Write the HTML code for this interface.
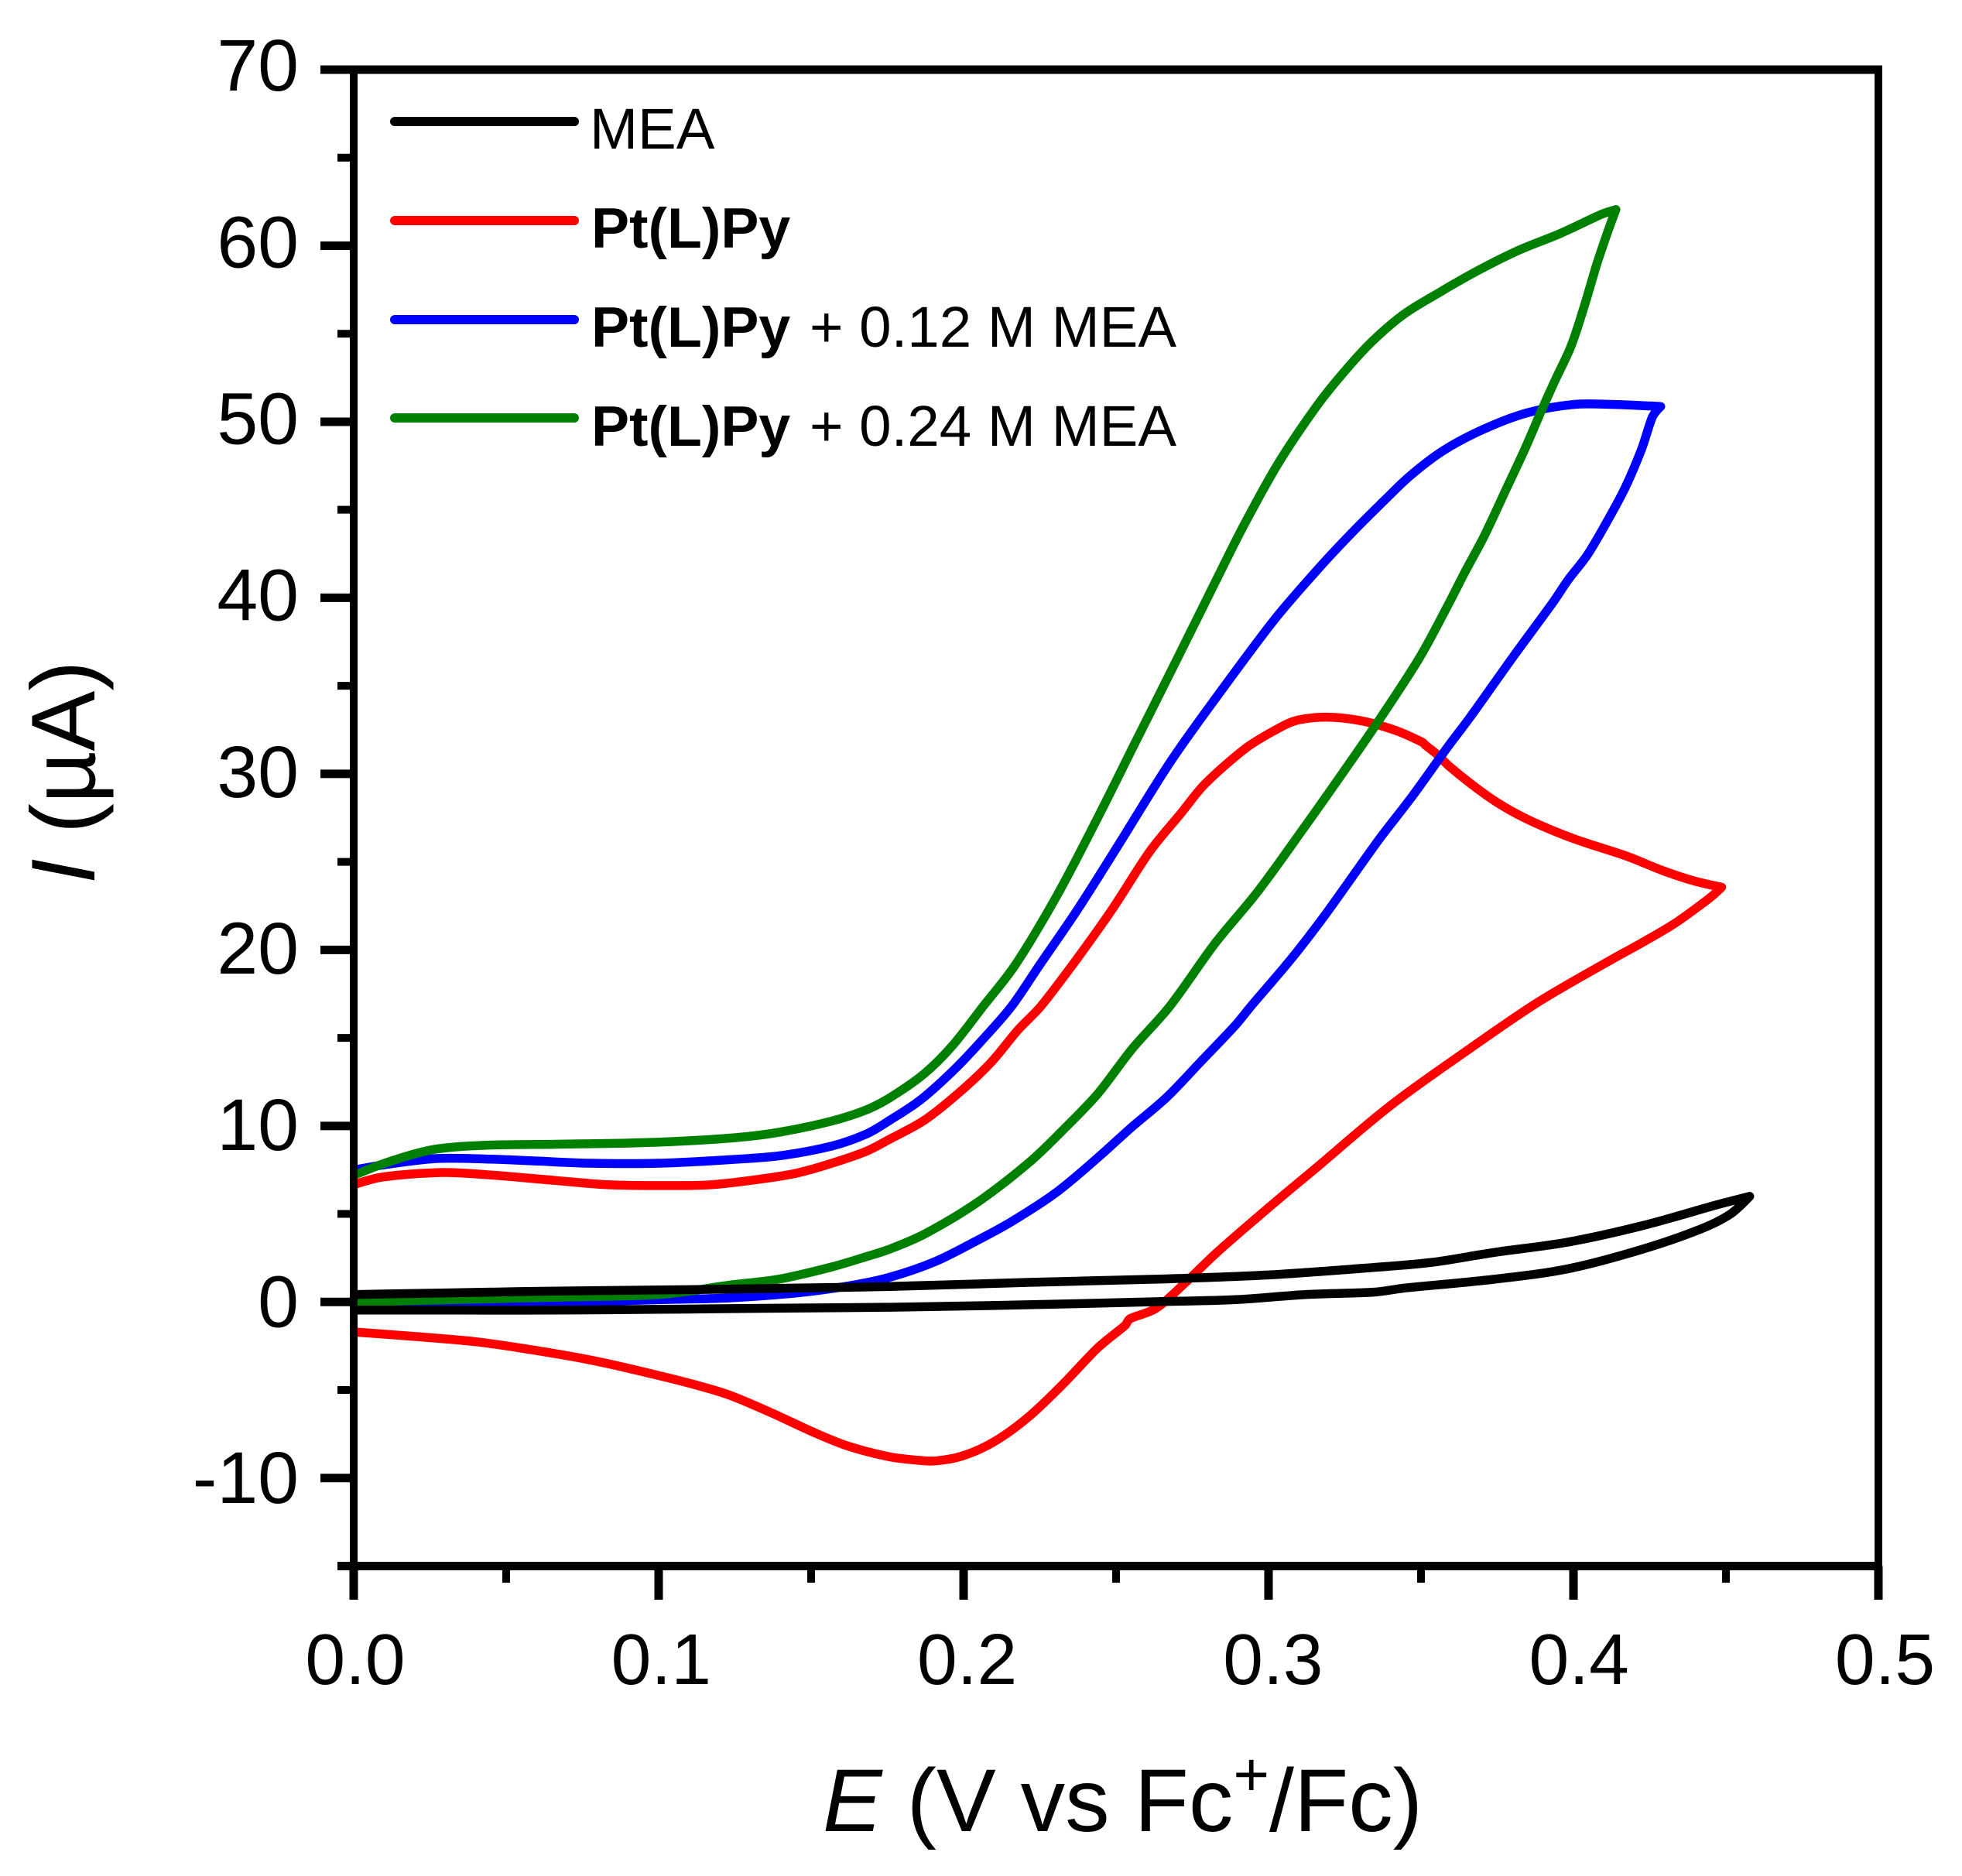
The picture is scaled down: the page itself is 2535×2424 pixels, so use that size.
<!DOCTYPE html>
<html lang="en">
<head>
<meta charset="utf-8">
<title>Cyclic voltammograms of MEA and Pt(L)Py</title>
<style>
html,body{margin:0;padding:0;background:#fff;}
svg{display:block;}
text{font-family:"Liberation Sans",Arial,sans-serif;fill:#000;}
</style>
</head>
<body>
<svg id="chart" xmlns="http://www.w3.org/2000/svg" width="2535" height="2424" viewBox="0 0 2535 2424">
  <rect x="0" y="0" width="2535" height="2424" fill="#fff"/>
  <g id="curves"></g>
  <g id="axes"></g>
  <g>
    <line x1="510" y1="157" x2="742" y2="157" stroke="#000" stroke-width="12" stroke-linecap="round"/>
    <text x="762" y="192" font-size="74.5">MEA</text>
    <line x1="510" y1="285" x2="742" y2="285" stroke="#f00" stroke-width="12" stroke-linecap="round"/>
    <text x="764" y="320" font-size="73.5" font-weight="bold">Pt(L)Py</text>
    <line x1="510" y1="413" x2="742" y2="413" stroke="#00f" stroke-width="12" stroke-linecap="round"/>
    <text x="764" y="448" font-size="74.5"><tspan font-weight="bold" font-size="73.5">Pt(L)Py</tspan><tspan dx="4"> + 0.12 M MEA</tspan></text>
    <line x1="510" y1="540" x2="742" y2="540" stroke="#008000" stroke-width="12" stroke-linecap="round"/>
    <text x="764" y="576" font-size="74.5"><tspan font-weight="bold" font-size="73.5">Pt(L)Py</tspan><tspan dx="4"> + 0.24 M MEA</tspan></text>
  </g>
  <text x="1063" y="2366" font-size="115"><tspan font-style="italic">E</tspan> (V vs Fc<tspan font-size="80" dy="-46">+</tspan><tspan dy="46">/Fc)</tspan></text>
  <text transform="translate(122,1142) rotate(-90)" font-size="117"><tspan font-style="italic">I</tspan> (µA)</text>
</svg>
<script>
// Tick values
const xMajorTicks = [0, 0.1, 0.2, 0.3, 0.4, 0.5];
const xMinorTicks = [0.05, 0.15, 0.25, 0.35, 0.45];
const yMajorTicks = [-10, 0, 10, 20, 30, 40, 50, 60, 70];
const yMinorTicks = [-15, -5, 5, 15, 25, 35, 45, 55, 65];
const xTickLabels = ['0.0', '0.1', '0.2', '0.3', '0.4', '0.5'];
const yTickLabels = ['-10', '0', '10', '20', '30', '40', '50', '60', '70'];

// MEA (black)
const meaE = [0, 0.0322, 0.0662, 0.1002, 0.1342, 0.1759, 0.2212, 0.2665, 0.2892, 0.3119, 0.3345, 0.3446, 0.3738, 0.3981, 0.4223, 0.4418, 0.4515, 0.4578, 0.4466, 0.4223, 0.3981, 0.3738, 0.3536, 0.3345, 0.3005, 0.2665, 0.2212, 0.1759, 0.1342, 0.1002, 0.0662, 0.0322, 0];
const meaI = [-0.46, -0.46, -0.46, -0.42, -0.36, -0.30, -0.16, 0.03, 0.13, 0.42, 0.56, 0.79, 1.29, 1.88, 2.98, 4.15, 5.0, 6.0, 5.5, 4.32, 3.40, 2.81, 2.25, 1.96, 1.54, 1.31, 1.11, 0.88, 0.76, 0.68, 0.62, 0.52, 0.42];

// Pt(L)Py (red)
const redE = [0, 0.0209, 0.0401, 0.0549, 0.0719, 0.0832, 0.0979, 0.1115, 0.1229, 0.1364, 0.1512, 0.1625, 0.1759, 0.1850, 0.1906, 0.1997, 0.2099, 0.2212, 0.2325, 0.2439, 0.2529, 0.2546, 0.2631, 0.2722, 0.2835, 0.3005, 0.3155, 0.3398, 0.3641, 0.3883, 0.4126, 0.4223, 0.4330, 0.4418, 0.4456, 0.4486, 0.4395, 0.4292, 0.4175, 0.4033, 0.3942, 0.3838, 0.3748, 0.3670, 0.3592, 0.3553, 0.3515, 0.3506, 0.3416, 0.3302, 0.3191, 0.3098, 0.3042, 0.2928, 0.2792, 0.2713, 0.2611, 0.2486, 0.2373, 0.2254, 0.2178, 0.2088, 0.1986, 0.1872, 0.1759, 0.1682, 0.1568, 0.1455, 0.1342, 0.1172, 0.1002, 0.0832, 0.0662, 0.0435, 0.0282, 0.0095, 0];
const redI = [-1.70, -1.97, -2.26, -2.62, -3.11, -3.50, -4.09, -4.68, -5.27, -6.25, -7.43, -8.21, -8.80, -8.99, -9.03, -8.74, -7.95, -6.54, -4.68, -2.62, -1.34, -0.95, -0.36, 1.01, 2.88, 5.43, 7.60, 11.13, 14.16, 17.02, 19.46, 20.39, 21.48, 22.57, 23.08, 23.56, 23.92, 24.51, 25.32, 26.12, 26.71, 27.51, 28.39, 29.35, 30.44, 31.10, 31.62, 31.78, 32.47, 33.02, 33.22, 33.06, 32.67, 31.49, 29.43, 27.76, 25.60, 22.27, 19.52, 16.81, 15.44, 13.57, 11.90, 10.33, 9.26, 8.57, 7.88, 7.33, 7.0, 6.66, 6.61, 6.66, 6.90, 7.23, 7.35, 7.10, 6.66];

// Pt(L)Py + 0.12 M MEA (blue)
const blueE = [0, 0.0322, 0.0662, 0.1002, 0.1229, 0.1455, 0.1625, 0.1759, 0.1906, 0.2042, 0.2156, 0.2303, 0.2439, 0.2552, 0.2665, 0.2779, 0.2892, 0.2943, 0.3076, 0.3189, 0.3359, 0.3472, 0.3586, 0.3663, 0.3800, 0.3930, 0.3983, 0.4045, 0.4108, 0.4170, 0.4223, 0.4259, 0.4286, 0.4250, 0.4134, 0.4001, 0.3849, 0.3707, 0.3573, 0.3467, 0.3378, 0.3271, 0.3155, 0.3019, 0.2849, 0.2679, 0.2509, 0.2373, 0.2249, 0.2158, 0.2065, 0.1974, 0.1861, 0.1759, 0.1682, 0.1568, 0.1398, 0.1229, 0.1002, 0.0775, 0.0605, 0.0435, 0.0265, 0.0095, 0];
const blueI = [-0.10, -0.03, -0.03, 0.13, 0.23, 0.52, 0.92, 1.41, 2.29, 3.47, 4.55, 6.21, 8.18, 9.94, 11.61, 13.67, 15.73, 16.81, 19.52, 22.07, 26.19, 28.74, 31.49, 33.26, 36.60, 39.67, 41.03, 42.42, 44.27, 46.27, 48.43, 50.28, 50.87, 50.90, 50.98, 50.98, 50.51, 49.59, 48.36, 46.97, 45.50, 43.65, 41.49, 38.75, 34.82, 30.70, 25.99, 22.27, 19.13, 16.81, 14.95, 13.28, 11.51, 10.33, 9.55, 8.86, 8.31, 8.08, 7.88, 7.88, 8.0, 8.12, 8.14, 7.78, 7.49];

// Pt(L)Py + 0.24 M MEA (green)
const greenE = [0, 0.0322, 0.0662, 0.1002, 0.1229, 0.1398, 0.1568, 0.1682, 0.1759, 0.1872, 0.2042, 0.2212, 0.2325, 0.2439, 0.2552, 0.2677, 0.2826, 0.2962, 0.3110, 0.3246, 0.3359, 0.3495, 0.3591, 0.3645, 0.3707, 0.3778, 0.3840, 0.3894, 0.3938, 0.3992, 0.4036, 0.4076, 0.4112, 0.4139, 0.4090, 0.3956, 0.3823, 0.3689, 0.3556, 0.3440, 0.3333, 0.3244, 0.3155, 0.3030, 0.2917, 0.2826, 0.2702, 0.2566, 0.2430, 0.2305, 0.2169, 0.2065, 0.1963, 0.1872, 0.1759, 0.1682, 0.1568, 0.1398, 0.1262, 0.1059, 0.0889, 0.0662, 0.0435, 0.0265, 0.0118, 0];
const greenI = [0.0, 0.13, 0.27, 0.42, 0.95, 1.31, 1.99, 2.58, 3.01, 3.86, 5.62, 7.88, 9.75, 11.81, 14.36, 16.81, 20.40, 23.25, 26.78, 30.12, 32.96, 36.59, 39.67, 41.49, 43.50, 46.12, 48.43, 50.59, 52.29, 54.29, 56.60, 58.92, 60.77, 62.05, 61.77, 60.69, 59.76, 58.61, 57.30, 56.06, 54.45, 52.75, 50.82, 47.58, 44.05, 40.91, 36.59, 31.88, 27.17, 23.05, 19.13, 16.81, 14.55, 12.98, 11.61, 10.92, 10.28, 9.65, 9.35, 9.12, 9.02, 8.96, 8.90, 8.67, 7.98, 7.19];

const NS = 'http://www.w3.org/2000/svg';
const xLeft = 457, xRight = 2427, yTop = 90, yBottom = 2023.5;
const eMin = 0, eMax = 0.5, iMin = -15, iMax = 70;
function xScale(v) { return xLeft + (v - eMin) / (eMax - eMin) * (xRight - xLeft); }
function yScale(v) { return yBottom - (v - iMin) / (iMax - iMin) * (yBottom - yTop); }

const axes = document.getElementById('axes');
const curves = document.getElementById('curves');

function makeLine(x1, y1, x2, y2, w) {
  const el = document.createElementNS(NS, 'line');
  el.setAttribute('x1', x1);
  el.setAttribute('y1', y1);
  el.setAttribute('x2', x2);
  el.setAttribute('y2', y2);
  el.setAttribute('stroke', '#000');
  el.setAttribute('stroke-width', w);
  axes.appendChild(el);
  return el;
}
function makeLabel(txt, x, y, anchor, size) {
  const el = document.createElementNS(NS, 'text');
  el.textContent = txt;
  el.setAttribute('x', x);
  el.setAttribute('y', y);
  el.setAttribute('font-size', size);
  el.setAttribute('text-anchor', anchor);
  axes.appendChild(el);
  return el;
}

// Frame
const leftSpine = makeLine(xLeft, yTop - 5, xLeft, 2067, 10);


const rightSpine = makeLine(xRight, yTop - 5, xRight, 2067, 10);


const topSpine = makeLine(414, yTop, xRight + 5, yTop, 11);


const bottomSpine = makeLine(436, yBottom, xRight + 5, yBottom, 11);



// X ticks
xMajorTicks.forEach(function (t, i) {
  const tick = makeLine(xScale(t), yBottom, xScale(t), 2067, 11);
  
  
  const label = makeLabel(xTickLabels[i], xScale(t) + 2 + 13 * t, 2176, 'middle', 93);
  
  
});
xMinorTicks.forEach(function (t) {
  const tick = makeLine(xScale(t), yBottom, xScale(t), 2045, 10);
  
  
});

// Y ticks
yMajorTicks.forEach(function (t, i) {
  const tick = makeLine(414, yScale(t), xLeft, yScale(t), 11);
  
  
  const label = makeLabel(yTickLabels[i], 386, yScale(t) + 32 - 0.07 * Math.max(t, 0), 'end', 95);
  
  
});
yMinorTicks.forEach(function (t) {
  const tick = makeLine(436, yScale(t), xLeft, yScale(t), 10);
  
  
});

// Smooth path through the data points, keeping the sharp switching-potential tips
function smoothPath(es, is) {
  const pts = es.map(function (e, i) { return [xScale(e), yScale(is[i])]; });
  const n = pts.length;
  const tan = pts.map(function (p, i) {
    if (i === 0 || i === n - 1) return [0, 0];
    const a = pts[i - 1], b = pts[i + 1];
    const ux = p[0] - a[0], uy = p[1] - a[1], vx = b[0] - p[0], vy = b[1] - p[1];
    const cos = (ux * vx + uy * vy) / (Math.hypot(ux, uy) * Math.hypot(vx, vy) || 1);
    if (cos < 0.2) return [0, 0];
    return [(b[0] - a[0]) / 6, (b[1] - a[1]) / 6];
  });
  let d = 'M' + pts[0][0].toFixed(1) + ' ' + pts[0][1].toFixed(1);
  for (let i = 0; i < n - 1; i++) {
    const p = pts[i], q = pts[i + 1], len = Math.hypot(q[0] - p[0], q[1] - p[1]);
    const l1 = Math.hypot(tan[i][0], tan[i][1]) || 1, l2 = Math.hypot(tan[i + 1][0], tan[i + 1][1]) || 1;
    const s1 = Math.min(1, len / 3 / l1), s2 = Math.min(1, len / 3 / l2);
    d += ' C' + (p[0] + tan[i][0] * s1).toFixed(1) + ' ' + (p[1] + tan[i][1] * s1).toFixed(1) +
         ' ' + (q[0] - tan[i + 1][0] * s2).toFixed(1) + ' ' + (q[1] - tan[i + 1][1] * s2).toFixed(1) +
         ' ' + q[0].toFixed(1) + ' ' + q[1].toFixed(1);
  }
  return d;
}

function drawCurve(es, is, color) {
  const el = document.createElementNS(NS, 'path');
  el.setAttribute('d', smoothPath(es, is));
  el.setAttribute('fill', 'none');
  el.setAttribute('stroke', color);
  el.setAttribute('stroke-width', '11.5');
  el.setAttribute('stroke-linejoin', 'round');
  el.setAttribute('stroke-linecap', 'butt');
  curves.appendChild(el);
  return el;
}
const redCurve = drawCurve(redE, redI, '#f00');


const blueCurve = drawCurve(blueE, blueI, '#00f');


const greenCurve = drawCurve(greenE, greenI, '#008000');


const meaCurve = drawCurve(meaE, meaI, '#000');


</script>
</body>
</html>
